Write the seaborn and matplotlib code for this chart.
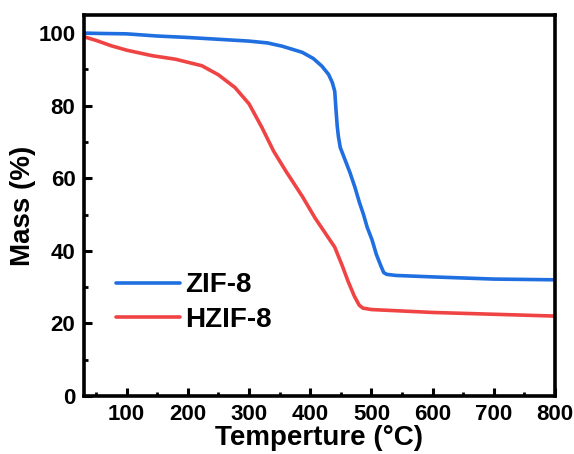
import matplotlib
matplotlib.use("Agg")
import matplotlib.pyplot as plt
import seaborn as sns
import pandas as pd
from matplotlib.ticker import MultipleLocator

zif_t = [30, 60, 100, 150, 200, 250, 300, 330, 354, 387, 405, 419, 430, 436, 440, 442, 444, 446, 449, 457, 465, 473, 480, 487, 493, 501, 508, 515, 520, 525, 540, 600, 700, 800]
zif_m = [100, 99.9, 99.8, 99.2, 98.8, 98.3, 97.8, 97.3, 96.4, 94.7, 93.0, 90.9, 88.6, 86.4, 84.0, 79.0, 74.5, 71.5, 68.5, 65.0, 61.5, 57.5, 53.5, 50.0, 46.5, 43.0, 39.0, 36.0, 34.0, 33.5, 33.2, 32.8, 32.2, 32.0]

hzif_t = [30, 50, 75, 100, 141, 180, 223, 250, 277, 300, 321, 340, 360, 387, 408, 424, 440, 452, 462, 472, 480, 486, 500, 600, 700, 800]
hzif_m = [99.0, 98.0, 96.5, 95.3, 93.8, 92.8, 91.0, 88.5, 85.0, 80.5, 74.0, 67.5, 62.0, 55.0, 49.0, 45.0, 41.0, 36.0, 31.5, 27.5, 25.0, 24.2, 23.8, 23.0, 22.5, 22.0]

df = pd.concat([
    pd.DataFrame({"T": zif_t, "Mass": zif_m, "Sample": "ZIF-8"}),
    pd.DataFrame({"T": hzif_t, "Mass": hzif_m, "Sample": "HZIF-8"}),
])

sns.set_style("white")
plt.rcParams["font.family"] = ["Liberation Sans", "DejaVu Sans"]
plt.rcParams["font.weight"] = "bold"
plt.rcParams["text.color"] = "black"
plt.rcParams["axes.labelcolor"] = "black"
plt.rcParams["xtick.color"] = "black"
plt.rcParams["ytick.color"] = "black"

fig = plt.figure(figsize=(5.74, 4.54), dpi=100)
ax = fig.add_axes([0.146, 0.128, 0.821, 0.839])
sns.lineplot(data=df, x="T", y="Mass", hue="Sample", sort=False,
             palette={"ZIF-8": "#1f6fe0", "HZIF-8": "#f04444"},
             linewidth=2.6, ax=ax, estimator=None)

ax.set_xlim(30, 800)
ax.set_ylim(0, 105)
ax.xaxis.set_major_locator(MultipleLocator(100))
ax.xaxis.set_minor_locator(MultipleLocator(50))
ax.yaxis.set_major_locator(MultipleLocator(20))
ax.yaxis.set_minor_locator(MultipleLocator(10))
ax.tick_params(which="major", direction="in", length=6, width=2.2, labelsize=16, pad=6,
               colors="black")
ax.tick_params(which="minor", direction="in", length=3, width=2.0, colors="black")
ax.tick_params(axis="x", which="both", bottom=True, top=False)
ax.tick_params(axis="y", which="both", left=True, right=False)
for lab in ax.get_xticklabels() + ax.get_yticklabels():
    lab.set_fontweight("bold")
for s in ax.spines.values():
    s.set_linewidth(2.6)
    s.set_color("black")

ax.set_xlabel("Temperture (°C)", fontsize=20, fontweight="bold", labelpad=0, color="black")
ax.set_ylabel("Mass (%)", fontsize=20, fontweight="bold", labelpad=2, color="black")

leg = ax.legend(loc="lower left", bbox_to_anchor=(0.015, 0.1), frameon=False,
                fontsize=20, handlelength=2.3, handletextpad=0.2, labelspacing=0.3)
for t in leg.get_texts():
    t.set_fontweight("bold")
    t.set_color("black")
for h in leg.get_lines():
    h.set_linewidth(2.6)

fig.savefig("out.png", dpi=100)
